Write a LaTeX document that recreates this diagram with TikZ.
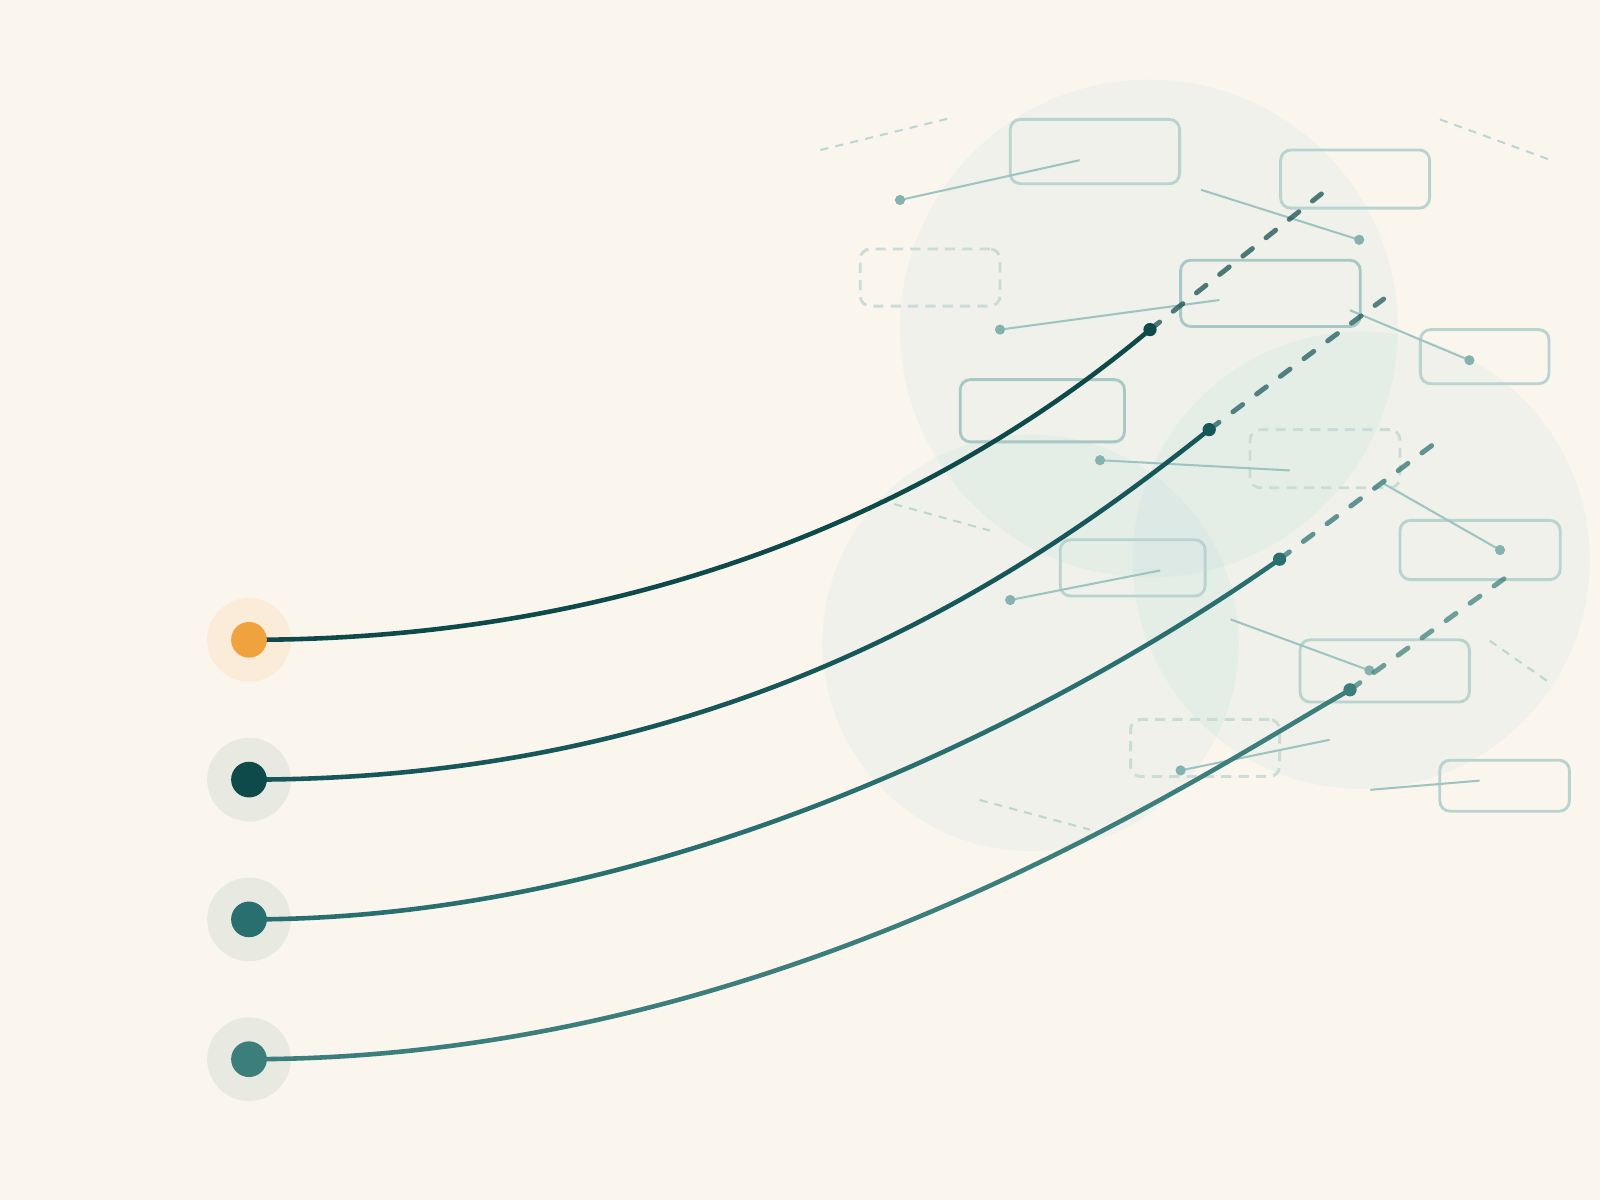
\documentclass[tikz,border=0pt]{standalone}
\usetikzlibrary{calc}
\definecolor{bgc}{RGB}{250,246,238}
\definecolor{blobc}{RGB}{150,206,208}
\definecolor{haloO}{RGB}{251,236,218}
\definecolor{haloG}{RGB}{232,234,226}
\definecolor{orng}{RGB}{240,162,62}
\definecolor{cA}{RGB}{15,74,75}
\definecolor{cB}{RGB}{23,87,90}
\definecolor{cC}{RGB}{42,111,112}
\definecolor{cD}{RGB}{60,126,123}
\definecolor{thinc}{RGB}{157,196,193}
\definecolor{dotc}{RGB}{133,178,175}
\definecolor{boxc}{RGB}{184,211,208}
\definecolor{boxd}{RGB}{168,200,198}
\definecolor{boxl}{RGB}{201,220,216}
\definecolor{decoc}{RGB}{189,214,210}
\tikzset{
  blob/.style={fill=blobc,fill opacity=0.1,draw=none},
  halo/.style={circle,draw=none,minimum size=82pt,inner sep=0pt},
  core/.style={circle,draw=none,minimum size=35pt,inner sep=0pt},
  box/.style={rectangle,rounded corners=10pt,draw=boxc,line width=2.8pt,inner sep=0pt},
  boxdk/.style={box,draw=boxd},
  dbox/.style={box,draw=boxl,dash pattern=on 10pt off 7pt},
  thin/.style={draw=thinc,line width=2pt},
  tdot/.style={fill=dotc,draw=none},
  deco/.style={draw=decoc,line width=2pt,dash pattern=on 8pt off 7pt},
  main/.style={line width=4.5pt},
  cont/.style={line width=4.8pt,line cap=round,dash pattern=on 12pt off 17pt,draw opacity=0.72},
}
\begin{document}
\begin{tikzpicture}[x=1pt,y=-1pt]
\fill[bgc] (0,0) rectangle (1568,1176);
\useasboundingbox (0,0) rectangle (1568,1176);
% blobs
\fill[blob] (1126,322) circle[radius=244];
\fill[blob] (1010,630) circle[radius=204];
\fill[blob] (1334,549) circle[radius=224];
% boxes
\node[box,minimum width=166pt,minimum height=63pt] (b1) at (1073,148.5) {};
\node[box,minimum width=146pt,minimum height=57pt] (b2) at (1328,175.5) {};
\node[dbox,minimum width=137pt,minimum height=56pt] (b3) at (911.5,272) {};
\node[boxdk,minimum width=176pt,minimum height=65pt] (b4) at (1245,287.5) {};
\node[box,minimum width=126pt,minimum height=53pt] (b5) at (1455,349.5) {};
\node[boxdk,minimum width=161pt,minimum height=61pt] (b6) at (1021.5,402.5) {};
\node[dbox,minimum width=147pt,minimum height=57pt] (b7) at (1298.5,449.5) {};
\node[box,minimum width=157pt,minimum height=58pt] (b8) at (1450.5,539) {};
\node[box,minimum width=142pt,minimum height=55pt] (b9) at (1110,556.5) {};
\node[box,minimum width=166pt,minimum height=61pt] (b10) at (1357,657.5) {};
\node[dbox,minimum width=146pt,minimum height=56pt] (b11) at (1181,733) {};
\node[box,minimum width=127pt,minimum height=50pt] (b12) at (1474.5,770) {};
% thin connector lines
\coordinate (p1a) at (882,196); \coordinate (p1b) at (1058,157);
\coordinate (p2a) at (1332,235); \coordinate (p2b) at (1177,186);
\coordinate (p3a) at (980,323); \coordinate (p3b) at (1195,294);
\coordinate (p4a) at (1440,353); \coordinate (p4b) at (1323,304);
\coordinate (p5a) at (1078,451); \coordinate (p5b) at (1264,461);
\coordinate (p6a) at (1470,539); \coordinate (p6b) at (1356,474);
\coordinate (p7a) at (990,588); \coordinate (p7b) at (1137,559);
\coordinate (p8a) at (1342,657); \coordinate (p8b) at (1206,607);
\coordinate (p9a) at (1157,755); \coordinate (p9b) at (1303,725);
\coordinate (p10a) at (1343,774); \coordinate (p10b) at (1450,765);
\foreach \i in {1,...,9}{
  \draw[thin] (p\i a) -- (p\i b);
  \fill[tdot] (p\i a) circle[radius=5];
}
\draw[thin] (p10a) -- (p10b);
% decorative dashes
\coordinate (d1a) at (804,147); \coordinate (d1b) at (930,116);
\coordinate (d2a) at (1411,117); \coordinate (d2b) at (1520,157);
\coordinate (d3a) at (862,490); \coordinate (d3b) at (970,520);
\coordinate (d4a) at (1460,628); \coordinate (d4b) at (1520,670);
\coordinate (d5a) at (960,784); \coordinate (d5b) at (1068,813);
\foreach \i in {1,...,5}{\draw[deco] (d\i a) -- (d\i b);}
% source circles
\node[halo,fill=haloO] (h1) at (244,627) {};
\node[halo,fill=haloG] (h2) at (244,764) {};
\node[halo,fill=haloG] (h3) at (244,901) {};
\node[halo,fill=haloG] (h4) at (244,1038) {};
% end points
\coordinate (e1) at (1127,323); \coordinate (f1) at (1295,190);
\coordinate (e2) at (1185,421); \coordinate (f2) at (1356,293);
\coordinate (e3) at (1254,548); \coordinate (f3) at (1408,433);
\coordinate (e4) at (1323,676); \coordinate (f4) at (1477,565);
% main curves
\draw[main,draw=cA] (h1.center) .. controls (650,627) and (940,480) .. (e1);
\draw[main,draw=cB] (h2.center) .. controls (720,764) and (1010,560) .. (e2);
\draw[main,draw=cC] (h3.center) .. controls (700,901) and (1110,650) .. (e3);
\draw[main,draw=cD] (h4.center) .. controls (760,1038) and (1163,768) .. (e4);
% dashed continuations
\draw[cont,draw=cA] (e1) -- (f1);
\draw[cont,draw=cB] (e2) -- (f2);
\draw[cont,draw=cC] (e3) -- (f3);
\draw[cont,draw=cD] (e4) -- (f4);
% end dots
\fill[cA] (e1) circle[radius=6.5];
\fill[cB] (e2) circle[radius=6.5];
\fill[cC] (e3) circle[radius=6.5];
\fill[cD] (e4) circle[radius=6.5];
% cores
\node[core,fill=orng] (k1) at (h1.center) {};
\node[core,fill=cA] (k2) at (h2.center) {};
\node[core,fill=cC] (k3) at (h3.center) {};
\node[core,fill=cD] (k4) at (h4.center) {};
\end{tikzpicture}
\end{document}
